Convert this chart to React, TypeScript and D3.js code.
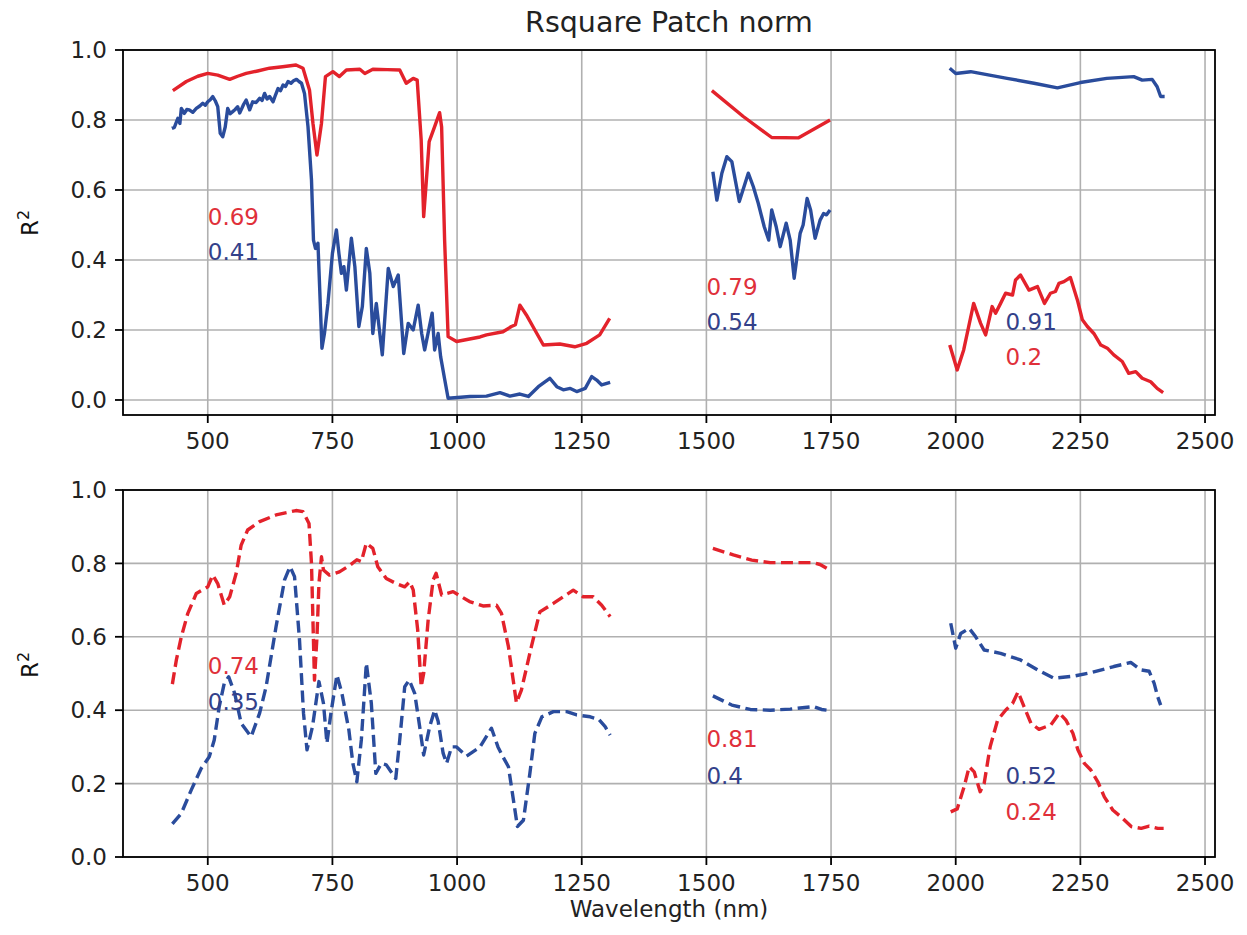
import React from "react";
import * as d3 from "d3";

type P = [number, number];

const xTicks = [500, 750, 1000, 1250, 1500, 1750, 2000, 2250, 2500];
const yTicks = [0.0, 0.2, 0.4, 0.6, 0.8, 1.0];
const titleText = "Rsquare Patch norm";
const xLabel = "Wavelength (nm)";

// Top panel (solid)
const topRed1: P[] = [[430,0.884],[457,0.91],[480,0.925],[500,0.933],[520,0.928],[544,0.916],[560,0.925],[577,0.933],[600,0.94],[624,0.948],[650,0.952],[677,0.957],[691,0.948],[704,0.886],[711,0.79],[719,0.70],[728,0.79],[736,0.924],[751,0.938],[764,0.924],[778,0.943],[805,0.945],[815,0.933],[831,0.945],[860,0.944],[885,0.943],[898,0.905],[912,0.919],[920,0.914],[928,0.743],[933,0.524],[938,0.619],[944,0.738],[955,0.781],[965,0.821],[969,0.78],[975,0.457],[982,0.181],[999,0.167],[1046,0.18],[1059,0.186],[1092,0.195],[1109,0.21],[1117,0.215],[1126,0.271],[1139,0.243],[1156,0.2],[1173,0.157],[1206,0.16],[1236,0.152],[1260,0.162],[1286,0.186],[1306,0.233]];
const topBlue1: P[] = [[428,0.776],[433,0.779],[440,0.805],[444,0.79],[447,0.833],[453,0.819],[458,0.83],[463,0.829],[470,0.822],[477,0.833],[484,0.84],[490,0.848],[495,0.842],[500,0.852],[505,0.858],[510,0.867],[515,0.855],[520,0.838],[525,0.762],[530,0.752],[535,0.78],[540,0.833],[545,0.818],[550,0.824],[555,0.83],[560,0.838],[564,0.82],[567,0.829],[572,0.845],[577,0.857],[584,0.829],[590,0.852],[597,0.85],[604,0.862],[609,0.856],[614,0.876],[619,0.86],[624,0.867],[631,0.852],[636,0.872],[641,0.89],[646,0.884],[651,0.9],[656,0.896],[661,0.91],[667,0.905],[672,0.912],[678,0.916],[683,0.91],[688,0.905],[694,0.876],[701,0.781],[708,0.629],[712,0.457],[716,0.433],[721,0.448],[729,0.148],[734,0.19],[741,0.276],[750,0.419],[758,0.486],[763,0.419],[768,0.362],[773,0.381],[778,0.314],[788,0.462],[795,0.381],[803,0.21],[810,0.267],[818,0.433],[825,0.362],[831,0.19],[838,0.276],[850,0.129],[862,0.376],[872,0.324],[882,0.357],[893,0.133],[902,0.219],[912,0.2],[922,0.271],[929,0.19],[935,0.143],[950,0.248],[955,0.143],[962,0.19],[967,0.124],[975,0.06],[982,0.005],[1026,0.01],[1059,0.011],[1086,0.021],[1106,0.011],[1126,0.017],[1143,0.01],[1163,0.038],[1186,0.062],[1200,0.038],[1213,0.029],[1227,0.033],[1240,0.024],[1257,0.033],[1270,0.067],[1280,0.057],[1290,0.043],[1307,0.05]];
const topRed2: P[] = [[1511,0.884],[1574,0.81],[1631,0.75],[1685,0.749],[1748,0.8]];
const topBlue2: P[] = [[1513,0.652],[1521,0.571],[1531,0.648],[1541,0.695],[1551,0.681],[1566,0.567],[1584,0.648],[1594,0.61],[1604,0.562],[1616,0.495],[1625,0.457],[1631,0.543],[1640,0.495],[1648,0.438],[1660,0.505],[1668,0.457],[1676,0.348],[1688,0.476],[1694,0.5],[1702,0.576],[1709,0.543],[1718,0.462],[1728,0.514],[1735,0.533],[1741,0.529],[1748,0.543]];
const topBlue3: P[] = [[1988,0.948],[2000,0.933],[2030,0.938],[2103,0.919],[2157,0.905],[2204,0.892],[2250,0.907],[2303,0.919],[2357,0.924],[2374,0.914],[2394,0.916],[2404,0.895],[2411,0.867],[2419,0.867]];
const topRed3: P[] = [[1988,0.157],[2003,0.086],[2016,0.143],[2036,0.276],[2050,0.219],[2060,0.186],[2073,0.267],[2080,0.248],[2090,0.276],[2100,0.305],[2114,0.3],[2120,0.343],[2130,0.357],[2147,0.314],[2164,0.324],[2178,0.276],[2190,0.305],[2200,0.31],[2207,0.333],[2217,0.338],[2230,0.35],[2244,0.286],[2254,0.229],[2264,0.21],[2277,0.19],[2291,0.157],[2304,0.148],[2317,0.129],[2334,0.11],[2347,0.076],[2361,0.081],[2374,0.062],[2391,0.052],[2404,0.033],[2416,0.021]];

// Bottom panel (dashed)
const botRed1: P[] = [[429,0.471],[437,0.537],[447,0.6],[460,0.664],[477,0.718],[500,0.736],[510,0.768],[520,0.745],[533,0.687],[544,0.709],[557,0.773],[567,0.85],[580,0.891],[604,0.914],[637,0.932],[677,0.944],[691,0.941],[703,0.909],[708,0.8],[714,0.482],[719,0.6],[723,0.746],[728,0.818],[732,0.782],[744,0.768],[764,0.777],[785,0.795],[799,0.81],[808,0.805],[818,0.855],[831,0.841],[841,0.791],[858,0.759],[878,0.745],[895,0.736],[905,0.75],[912,0.728],[921,0.619],[928,0.464],[933,0.5],[942,0.646],[952,0.755],[958,0.773],[969,0.714],[992,0.723],[1025,0.696],[1052,0.684],[1079,0.686],[1089,0.664],[1103,0.573],[1119,0.42],[1129,0.455],[1149,0.573],[1166,0.668],[1193,0.691],[1233,0.727],[1253,0.709],[1273,0.709],[1290,0.686],[1307,0.655]];
const botBlue1: P[] = [[429,0.09],[447,0.119],[467,0.183],[487,0.242],[503,0.273],[513,0.319],[523,0.41],[533,0.473],[542,0.491],[554,0.446],[567,0.364],[587,0.328],[604,0.392],[617,0.464],[637,0.628],[654,0.755],[665,0.791],[674,0.764],[684,0.591],[692,0.392],[699,0.292],[710,0.355],[723,0.478],[732,0.419],[739,0.31],[747,0.392],[759,0.496],[769,0.446],[783,0.346],[791,0.255],[799,0.205],[808,0.319],[818,0.528],[828,0.419],[837,0.228],[848,0.255],[858,0.251],[877,0.214],[885,0.319],[895,0.464],[904,0.482],[915,0.446],[925,0.355],[933,0.278],[945,0.355],[955,0.4],[962,0.37],[972,0.283],[979,0.255],[989,0.3],[999,0.3],[1019,0.275],[1046,0.3],[1069,0.351],[1082,0.3],[1092,0.273],[1103,0.246],[1113,0.155],[1121,0.083],[1133,0.1],[1146,0.228],[1156,0.337],[1170,0.382],[1193,0.396],[1220,0.396],[1240,0.387],[1267,0.382],[1284,0.375],[1297,0.355],[1307,0.332]];
const botRed2: P[] = [[1513,0.841],[1554,0.823],[1591,0.809],[1628,0.802],[1715,0.802],[1728,0.797],[1747,0.782]];
const botBlue2: P[] = [[1513,0.439],[1551,0.414],[1588,0.402],[1628,0.4],[1668,0.403],[1715,0.41],[1731,0.402],[1747,0.399]];
const botBlue3: P[] = [[1990,0.637],[2000,0.569],[2010,0.609],[2027,0.623],[2040,0.6],[2057,0.564],[2090,0.555],[2130,0.537],[2164,0.51],[2197,0.487],[2237,0.493],[2270,0.502],[2317,0.519],[2351,0.53],[2371,0.51],[2388,0.506],[2398,0.473],[2405,0.437],[2411,0.414]];
const botRed3: P[] = [[1990,0.123],[2003,0.131],[2017,0.192],[2027,0.246],[2037,0.232],[2049,0.178],[2057,0.2],[2069,0.3],[2084,0.373],[2100,0.4],[2114,0.418],[2125,0.45],[2137,0.41],[2151,0.364],[2167,0.348],[2191,0.36],[2208,0.392],[2221,0.373],[2235,0.337],[2245,0.292],[2258,0.255],[2271,0.237],[2285,0.205],[2298,0.164],[2315,0.128],[2335,0.105],[2352,0.083],[2372,0.078],[2388,0.084],[2405,0.078],[2417,0.078]];

type Note = { x: number; y: number; text: string; color: "red" | "blue" };
const topNotes: Note[] = [
  { x: 500, y: 0.5, text: "0.69", color: "red" },
  { x: 500, y: 0.4, text: "0.41", color: "blue" },
  { x: 1500, y: 0.3, text: "0.79", color: "red" },
  { x: 1500, y: 0.2, text: "0.54", color: "blue" },
  { x: 2100, y: 0.2, text: "0.91", color: "blue" },
  { x: 2100, y: 0.1, text: "0.2", color: "red" },
];
const botNotes: Note[] = [
  { x: 500, y: 0.5, text: "0.74", color: "red" },
  { x: 500, y: 0.4, text: "0.35", color: "blue" },
  { x: 1500, y: 0.3, text: "0.81", color: "red" },
  { x: 1500, y: 0.2, text: "0.4", color: "blue" },
  { x: 2100, y: 0.2, text: "0.52", color: "blue" },
  { x: 2100, y: 0.1, text: "0.24", color: "red" },
];

const RED = "#e3222b";
const BLUE = "#2a4c9c";
const RED_TXT = "#e0303a";
const BLUE_TXT = "#33418a";
const FONT = "'DejaVu Sans', sans-serif";

const W = 1247;
const H = 935;
const LEFT = 123;
const RIGHT = 1215;

const x = d3.scaleLinear().domain([330, 2520]).range([LEFT, RIGHT]);

function Panel({ yScale, top, bottom, red, blue, notes, dashed, showXLabel, yLabelY }: any) {
  const line = d3.line<P>().x((d) => x(d[0])).y((d) => yScale(d[1]));
  const dash = dashed ? "12,5.5" : undefined;
  return (
    <g>
      {xTicks.map((t) => (
        <line key={"gx" + t} x1={x(t)} x2={x(t)} y1={top} y2={bottom} stroke="#b0b0b0" strokeWidth={1.6} />
      ))}
      {yTicks.map((t) => (
        <line key={"gy" + t} x1={LEFT} x2={RIGHT} y1={yScale(t)} y2={yScale(t)} stroke="#b0b0b0" strokeWidth={1.6} />
      ))}
      {red.map((seg: P[], i: number) => (
        <path key={"r" + i} d={line(seg) || ""} fill="none" stroke={RED} strokeWidth={3.4} strokeDasharray={dash} strokeLinejoin="round" />
      ))}
      {blue.map((seg: P[], i: number) => (
        <path key={"b" + i} d={line(seg) || ""} fill="none" stroke={BLUE} strokeWidth={3.4} strokeDasharray={dash} strokeLinejoin="round" />
      ))}
      {notes.map((n: Note, i: number) => (
        <text key={"n" + i} x={x(n.x)} y={yScale(n.y)} fill={n.color === "red" ? RED_TXT : BLUE_TXT} fontFamily={FONT} fontSize={23}>
          {n.text}
        </text>
      ))}
      <rect x={LEFT} y={top} width={RIGHT - LEFT} height={bottom - top} fill="none" stroke="#000" strokeWidth={1.8} />
      {xTicks.map((t) => (
        <g key={"xt" + t}>
          <line x1={x(t)} x2={x(t)} y1={bottom} y2={bottom + 8} stroke="#000" strokeWidth={1.8} />
          <text x={x(t)} y={bottom + 34} textAnchor="middle" fontFamily={FONT} fontSize={23} fill="#222">
            {t}
          </text>
        </g>
      ))}
      {yTicks.map((t) => (
        <g key={"yt" + t}>
          <line x1={LEFT - 8} x2={LEFT} y1={yScale(t)} y2={yScale(t)} stroke="#000" strokeWidth={1.8} />
          <text x={LEFT - 16} y={yScale(t)} dy="0.36em" textAnchor="end" fontFamily={FONT} fontSize={23} fill="#222">
            {t.toFixed(1)}
          </text>
        </g>
      ))}
      <text transform={`translate(38,${yLabelY}) rotate(-90)`} textAnchor="middle" fontFamily={FONT} fontSize={23} fill="#111">
        <tspan>R</tspan>
        <tspan dy={-9} fontSize={16}>2</tspan>
      </text>
      {showXLabel && (
        <text x={(LEFT + RIGHT) / 2} y={917} textAnchor="middle" fontFamily={FONT} fontSize={23} fill="#222">
          {xLabel}
        </text>
      )}
    </g>
  );
}

export default function App() {
  const yTop = d3.scaleLinear().domain([-0.0429, 1]).range([415, 50]);
  const yBot = d3.scaleLinear().domain([0, 1]).range([857, 490]);
  return (
    <svg width={W} height={H} style={{ position: "absolute", left: 0, top: 0, background: "#fff" }}>
      <rect x={0} y={0} width={W} height={H} fill="#fff" />
      <text x={(LEFT + RIGHT) / 2} y={32} textAnchor="middle" fontFamily={FONT} fontSize={28.5} fill="#222">
        {titleText}
      </text>
      <Panel yScale={yTop} top={50} bottom={415} red={[topRed1, topRed2, topRed3]} blue={[topBlue1, topBlue2, topBlue3]} notes={topNotes} dashed={false} showXLabel={false} yLabelY={223} />
      <Panel yScale={yBot} top={490} bottom={857} red={[botRed1, botRed2, botRed3]} blue={[botBlue1, botBlue2, botBlue3]} notes={botNotes} dashed={true} showXLabel={true} yLabelY={665} />
    </svg>
  );
}
